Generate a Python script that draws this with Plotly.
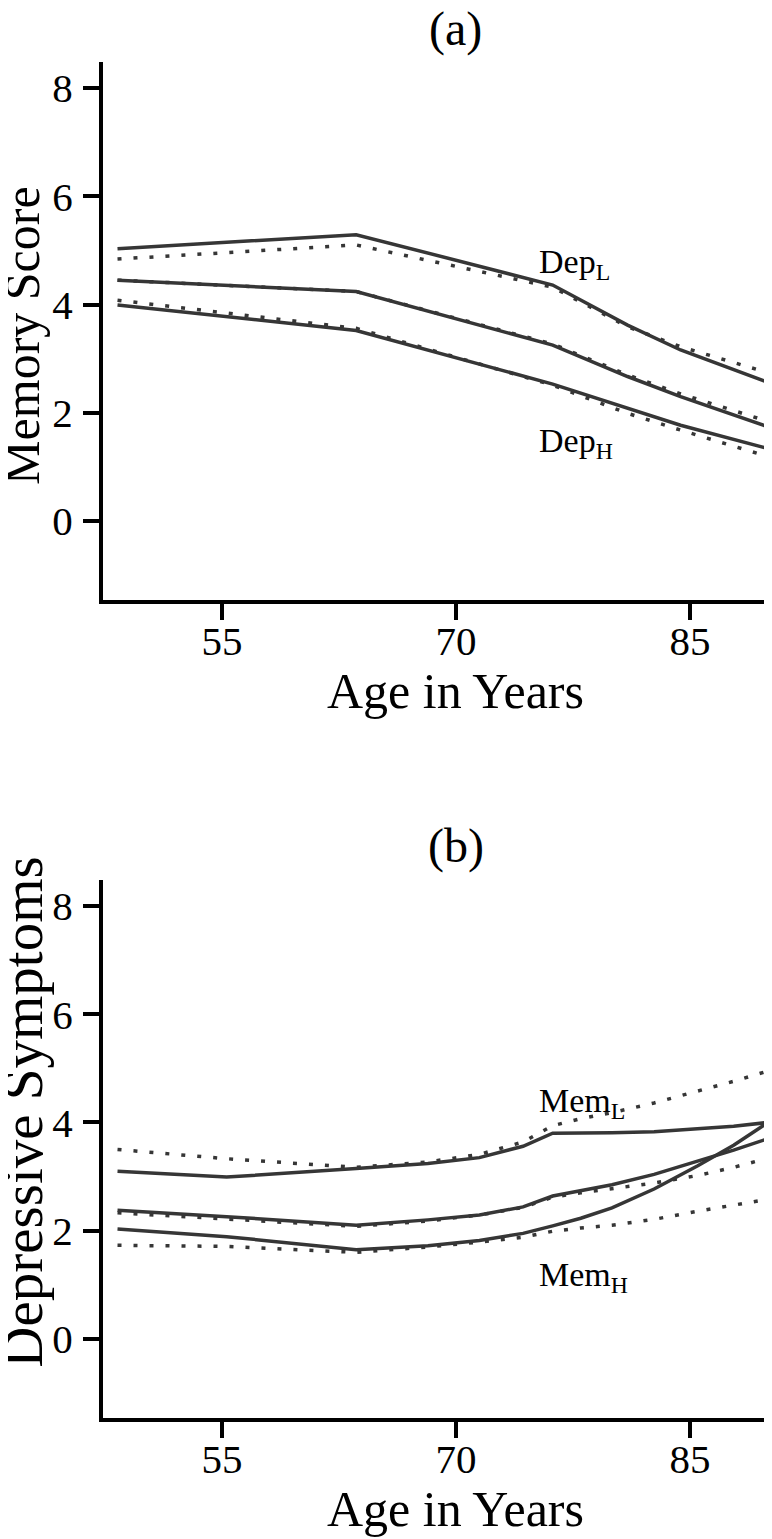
import plotly.graph_objects as go

# ---------------- data ----------------
# Panel (a): Memory score by age
age_a = [48.3, 63.6, 76.2, 81.0, 84.4, 90.0]
depL_solid = [5.03, 5.29, 4.36, 3.62, 3.16, 2.56]
depL_dot = [4.84, 5.10, 4.32, 3.59, 3.22, 2.74]
mid_a_solid = [4.45, 4.24, 3.25, 2.67, 2.30, 1.74]
mid_a_dot = [4.45, 4.24, 3.27, 2.70, 2.35, 1.84]
depH_solid = [3.99, 3.52, 2.53, 2.08, 1.77, 1.34]
depH_dot = [4.08, 3.56, 2.51, 1.99, 1.68, 1.19]

# Panel (b): Depressive symptoms by age
age_b = [48.3, 55.3, 63.6, 68.2, 71.5, 74.3, 76.2, 78.0, 80.0, 82.7, 85.5, 87.8, 90.0]
memL_solid = [3.10, 2.99, 3.15, 3.24, 3.35, 3.56, 3.80, 3.80, 3.81, 3.83, 3.88, 3.93, 4.00]
memL_dot = [3.50, 3.33, 3.17, 3.27, 3.41, 3.64, 3.94, 4.07, 4.18, 4.36, 4.58, 4.76, 4.95]
mid_b_solid = [2.38, 2.26, 2.10, 2.20, 2.29, 2.44, 2.64, 2.74, 2.85, 3.04, 3.28, 3.49, 3.70]
mid_b_dot = [2.33, 2.22, 2.08, 2.18, 2.29, 2.43, 2.62, 2.70, 2.78, 2.88, 3.02, 3.17, 3.34]
memH_solid = [2.03, 1.89, 1.65, 1.72, 1.82, 1.95, 2.09, 2.23, 2.42, 2.77, 3.20, 3.58, 4.00]
memH_dot = [1.73, 1.71, 1.60, 1.70, 1.79, 1.88, 1.99, 2.05, 2.10, 2.21, 2.36, 2.47, 2.58]

x_ticks = [55, 70, 85]
y_ticks = [0, 2, 4, 6, 8]

# ---------------- style ----------------
FONT = "Liberation Serif"
COL = "#363636"
LW = 3.5
DOT = "4px,12px"

fig = go.Figure()

def add(x, y, dotted, xa, ya):
    fig.add_trace(go.Scatter(
        x=x, y=y, mode="lines", xaxis=xa, yaxis=ya,
        line=dict(color=COL, width=LW, dash=DOT if dotted else "solid"),
        showlegend=False, hoverinfo="skip"))

for ys, d in [(depL_dot, True), (mid_a_dot, True), (depH_dot, True),
              (depL_solid, False), (mid_a_solid, False), (depH_solid, False)]:
    add(age_a, ys, d, "x", "y")
for ys, d in [(memL_dot, True), (mid_b_dot, True), (memH_dot, True),
              (memL_solid, False), (mid_b_solid, False), (memH_solid, False)]:
    add(age_b, ys, d, "x2", "y2")

xr = [47.37, 90.26]
yr = [-1.46, 8.48]
axis_common = dict(showline=True, linecolor="black", linewidth=4,
                   ticks="outside", ticklen=16, tickwidth=4, tickcolor="black",
                   showgrid=False, zeroline=False,
                   tickfont=dict(family=FONT, size=41, color="black"))

# page body has an 8px default margin: compensate so the plot lands where intended
fig.update_layout(
    width=764, height=1531,
    margin=dict(l=95, r=0, t=54, b=121),
    paper_bgcolor="white", plot_bgcolor="white",
    xaxis=dict(domain=[0, 1], range=xr, tickvals=x_ticks, anchor="y",
               ticklabelstandoff=-14, **axis_common),
    yaxis=dict(domain=[0.6032, 1], range=yr, tickvals=y_ticks, anchor="x",
               ticklabelstandoff=2, **axis_common),
    xaxis2=dict(domain=[0, 1], range=xr, tickvals=x_ticks, anchor="y2",
                ticklabelstandoff=-14, **axis_common),
    yaxis2=dict(domain=[0, 0.3968], range=yr, tickvals=y_ticks, anchor="x2",
                ticklabelstandoff=2, **axis_common),
)

ann = []
def txt(text, x, y, xref, yref, size, angle=0, xanchor="center"):
    ann.append(dict(text=text, x=x, y=y, xref=xref, yref=yref, showarrow=False,
                    xanchor=xanchor, yanchor="middle", textangle=angle,
                    font=dict(family=FONT, size=size, color="black")))

# panel titles
txt("(a)", 70, (1418 - 29) / 1356, "x", "paper", 48)
txt("(b)", 70, (1418 - 846) / 1356, "x2", "paper", 48)
# x-axis titles
txt("Age in Years", 70, (1418 - 691) / 1356, "x", "paper", 50)
txt("Age in Years", 70, (1418 - 1509) / 1356, "x2", "paper", 50)
# y-axis titles
txt("Memory Score", (22 - 103) / 669, 3.42, "paper", "y", 50, angle=-90)
txt("Depressive Symptoms", (23 - 103) / 669, 4.18, "paper", "y2", 57, angle=-90)
# curve labels
txt("Dep<sub>L</sub>", 75.2, 4.75, "x", "y", 34, xanchor="left")
txt("Dep<sub>H</sub>", 75.2, 1.45, "x", "y", 34, xanchor="left")
txt("Mem<sub>L</sub>", 75.2, 4.35, "x2", "y2", 34, xanchor="left")
txt("Mem<sub>H</sub>", 75.2, 1.15, "x2", "y2", 34, xanchor="left")

fig.update_layout(annotations=ann)
fig.write_html("out.html")
